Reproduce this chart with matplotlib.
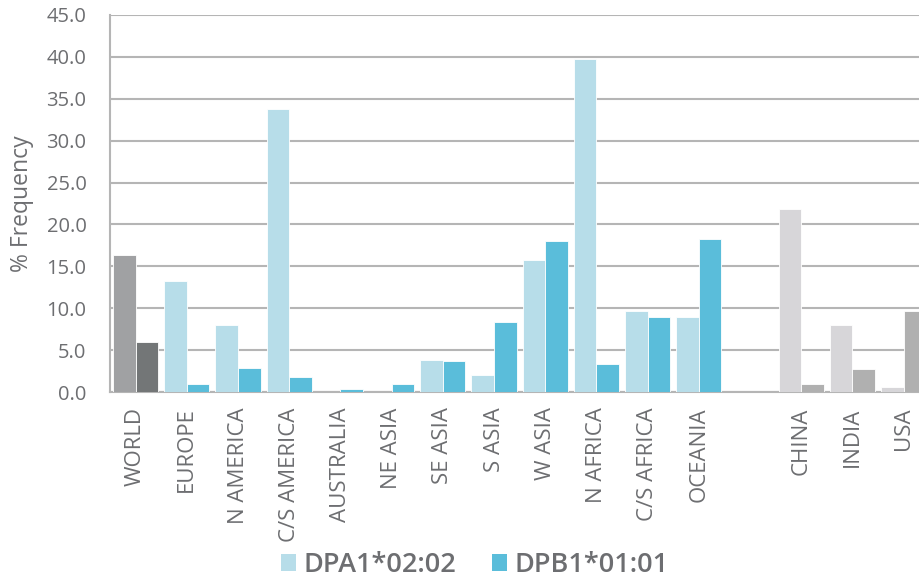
import numpy as np
import matplotlib
matplotlib.use("Agg")
import matplotlib.pyplot as plt
from matplotlib.patches import Patch

# values
regions = ['WORLD', 'EUROPE', 'N AMERICA', 'C/S AMERICA', 'AUSTRALIA', 'NE ASIA',
           'SE ASIA', 'S ASIA', 'W ASIA', 'N AFRICA', 'C/S AFRICA', 'OCEANIA',
           '', 'CHINA', 'INDIA', 'USA']
dpa1 = [16.3, 13.3, 8.0, 33.8, 0.0, 0.0, 3.8, 2.0, 15.7, 39.7, 9.7, 9.0,
        0.0, 21.8, 8.0, 0.6]
dpb1 = [6.0, 1.0, 2.9, 1.8, 0.3, 1.0, 3.7, 8.3, 18.0, 3.4, 8.9, 18.3,
        0.0, 1.0, 2.7, 9.7]
legend_labels = ['DPA1*02:02', 'DPB1*01:01']

light_blue = '#b7dde9'
blue = '#5abdda'
c_a = [light_blue] * 16
c_b = [blue] * 16
c_a[0], c_b[0] = '#a0a1a3', '#737677'
for i in (13, 14, 15):
    c_a[i], c_b[i] = '#d7d6d9', '#b0b0b0'

text_col = '#6d6e71'
plt.rcParams['font.family'] = ['Open Sans', 'DejaVu Sans']

fig = plt.figure(figsize=(9.2, 5.79), dpi=100)
ax = fig.add_axes([110 / 920, 1 - 392 / 579, 1 - 110 / 920 + 0.01, (392 - 15) / 579])

x = np.arange(len(regions))
w = 0.44
ax.bar(x - w / 2, dpa1, w, color=c_a, edgecolor='white', linewidth=0.6, zorder=3)
ax.bar(x + w / 2, dpb1, w, color=c_b, edgecolor='white', linewidth=0.6, zorder=3)

ax.set_xlim(-0.5, 15.5)
ax.set_ylim(0, 45)
ax.set_yticks(np.arange(0, 46, 5))
ax.set_yticklabels([f'{v:.1f}' for v in np.arange(0, 46, 5)])
ax.set_xticks(x)
ax.set_xticklabels(regions, rotation=90, fontsize=16, color=text_col)
ax.tick_params(axis='y', length=0, pad=17, labelsize=14.5, labelcolor=text_col)
ax.tick_params(axis='x', length=0, pad=11)
ax.grid(axis='y', color='#b5b5b5', linewidth=1.5, zorder=0)
for s in ('top', 'right'):
    ax.spines[s].set_visible(False)
for s in ('left', 'bottom'):
    ax.spines[s].set_color('#b5b5b5')
    ax.spines[s].set_linewidth(1.5)

ax.set_ylabel('% Frequency', fontsize=16.5, color=text_col, labelpad=9)

handles = [Patch(facecolor=light_blue), Patch(facecolor=blue)]
fig.legend(handles, legend_labels, loc='center', bbox_to_anchor=(0.516, 1 - 565 / 579),
           ncol=2, frameon=False, handlelength=0.55, handleheight=0.55,
           handletextpad=0.3, columnspacing=1.3, borderpad=0.1,
           prop={'family': ['Open Sans', 'DejaVu Sans'], 'size': 19.5, 'weight': 'semibold'},
           labelcolor=text_col)

fig.savefig('out.png', dpi=100)
